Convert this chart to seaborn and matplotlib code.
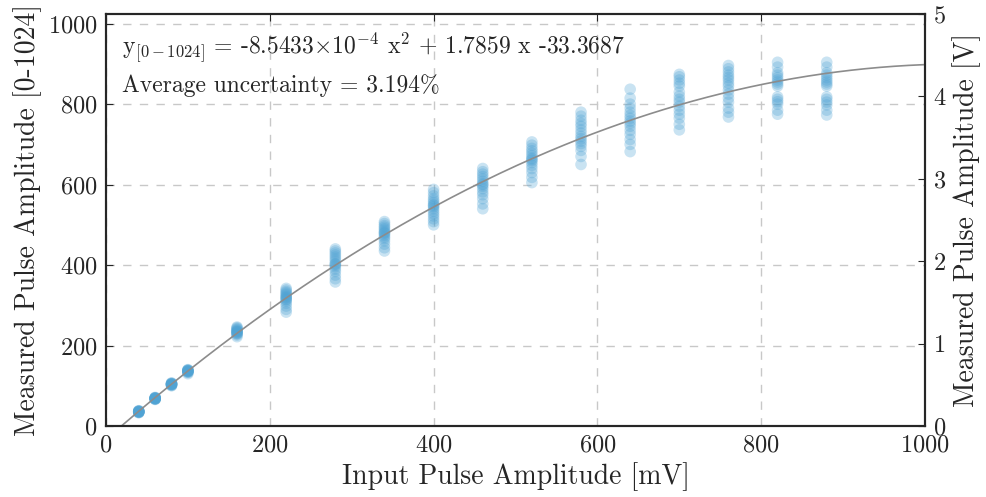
import seaborn as sns
import pandas as pd
import matplotlib.pyplot as plt
import numpy as np

# input amplitudes [mV] and measured amplitudes [0-1024]
x_levels = [40, 60, 80, 100, 160, 220, 280, 340, 400, 460, 520, 580, 640, 700, 760, 820, 880]
y_40 = [33, 34, 35, 35, 36, 36, 37, 37, 35, 34, 36, 38]
y_60 = [66, 67, 68, 68, 69, 69, 70, 70, 67, 68, 69, 71]
y_80 = [100, 101, 102, 103, 104, 104, 105, 106, 103, 104, 105, 107]
y_100 = [130, 133, 135, 136, 136, 137, 138, 138, 139, 140, 134, 137]
y_160 = [222, 226, 229, 231, 233, 235, 236, 238, 240, 242, 244, 246, 230, 234]
y_220 = [283, 290, 298, 305, 310, 314, 318, 320, 322, 325, 328, 331, 334, 338, 342, 315]
y_280 = [358, 366, 375, 384, 390, 396, 400, 404, 410, 415, 420, 425, 430, 435, 440, 402]
y_340 = [435, 443, 452, 460, 466, 470, 474, 478, 482, 486, 490, 494, 498, 503, 508, 480]
y_400 = [500, 508, 515, 522, 528, 534, 540, 545, 550, 555, 560, 565, 572, 580, 588, 548]
y_460 = [540, 552, 565, 575, 582, 590, 596, 602, 608, 614, 620, 626, 632, 640, 600]
y_520 = [605, 618, 630, 640, 648, 655, 660, 666, 672, 678, 684, 690, 698, 706, 663]
y_580 = [650, 670, 685, 695, 702, 708, 714, 720, 728, 736, 745, 752, 760, 770, 780]
y_640 = [682, 700, 712, 725, 735, 745, 752, 758, 765, 772, 780, 790, 800, 815, 837]
y_700 = [736, 750, 765, 775, 785, 795, 805, 812, 820, 830, 845, 852, 860, 868, 874]
y_760 = [768, 780, 790, 805, 815, 825, 835, 845, 852, 860, 866, 872, 880, 888, 896]
y_820 = [775, 785, 800, 806, 812, 818, 845, 850, 855, 860, 866, 872, 878, 892, 904]
y_880 = [773, 785, 798, 805, 812, 818, 845, 850, 855, 860, 866, 872, 878, 892, 904]
y_groups = [y_40, y_60, y_80, y_100, y_160, y_220, y_280, y_340, y_400, y_460,
            y_520, y_580, y_640, y_700, y_760, y_820, y_880]

# quadratic fit coefficients quoted in the plot
fit_coeffs = [-8.5433e-4, 1.7859, -33.3687]
avg_uncertainty = 3.194

rows = [(x, y) for x, ys in zip(x_levels, y_groups) for y in ys]
data = pd.DataFrame(rows, columns=["Input", "Measured"])

x_fit = np.linspace(0, 1000, 400)
fit = pd.DataFrame({"Input": x_fit, "Measured": np.polyval(fit_coeffs, x_fit)})

sns.set_style("white")
plt.rcParams['font.family'] = 'serif'
plt.rcParams['font.serif'] = ['cmr10']
plt.rcParams['mathtext.fontset'] = 'cm'
plt.rcParams['axes.formatter.use_mathtext'] = True

fig = plt.figure(figsize=(9.87, 4.97), dpi=100)
ax = fig.add_axes([0.1074, 0.1429, 0.8298, 0.8289])

sns.scatterplot(data=data, x="Input", y="Measured", ax=ax, color="#4fa3d4",
                alpha=0.3, s=70, edgecolor="none", zorder=3)
sns.lineplot(data=fit, x="Input", y="Measured", ax=ax, color="#8c8c8c", lw=1.2, zorder=4)

ax.set_xlim(0, 1000)
ax.set_ylim(0, 1024)
ax.set_xticks(range(0, 1001, 200))
ax.set_yticks(range(0, 1001, 200))
ax.grid(True, color="#c8c8c8", ls=(0, (6, 6)), lw=1.0)
ax.set_xlabel("Input Pulse Amplitude [mV]", fontsize=20)
ax.set_ylabel("Measured Pulse Amplitude [0-1024]", fontsize=20)
ax.tick_params(direction="in", labelsize=17.5, length=5, top=True, pad=6)
for sp in ax.spines.values():
    sp.set_linewidth(1.5)
    sp.set_color("black")

ax2 = ax.twinx()
ax2.set_ylim(0, 5)
ax2.set_yticks(range(0, 6))
ax2.set_ylabel("Measured Pulse Amplitude [V]", fontsize=20)
ax2.tick_params(direction="in", labelsize=17.5, length=5, pad=6)
for sp in ax2.spines.values():
    sp.set_linewidth(1.5)

ax.text(0.02, 0.96,
        r"y$_{[0-1024]}$ = -8.5433$\times$10$^{-4}$ x$^2$ + 1.7859 x -33.3687",
        transform=ax.transAxes, fontsize=17, va="top", ha="left")
ax.text(0.02, 0.855, "Average uncertainty = %.3f%%" % avg_uncertainty,
        transform=ax.transAxes, fontsize=17, va="top", ha="left")

plt.savefig("out.png", dpi=100)
